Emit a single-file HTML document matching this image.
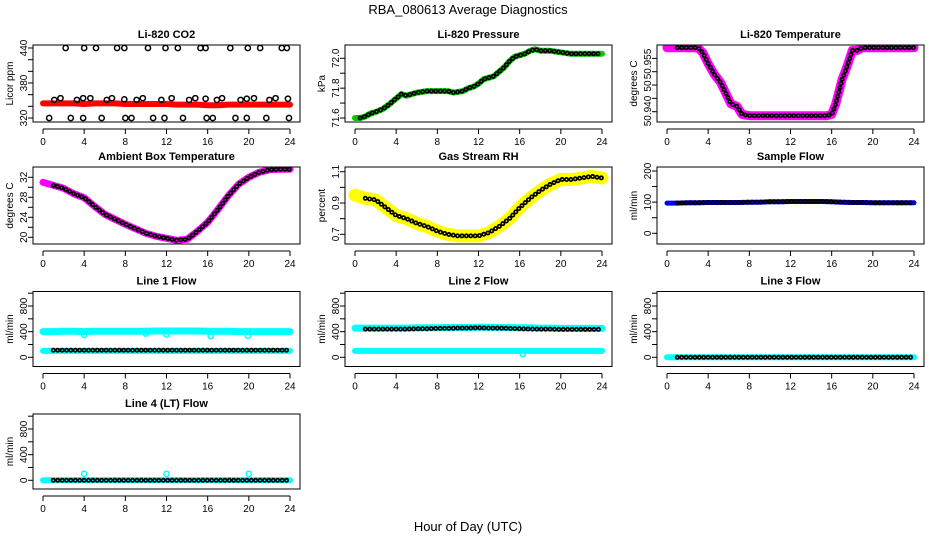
<!DOCTYPE html>
<html><head><meta charset="utf-8">
<style>
html,body{margin:0;padding:0;background:#fff;}
svg{display:block;font-family:"Liberation Sans",Arial,sans-serif;}
.tk{font-size:10px;fill:#000;}
.ttl{font-size:11px;font-weight:bold;fill:#000;}
</style></head>
<body>
<svg id="chart" width="936" height="540" viewBox="0 0 936 540" xmlns="http://www.w3.org/2000/svg">
<text x="468" y="14" text-anchor="middle" font-size="13">RBA_080613  Average Diagnostics</text>
<text x="468" y="531" text-anchor="middle" font-size="13">Hour of Day (UTC)</text>
</svg>
<script>
// ---------- data ----------
const hourTicks = [0,4,8,12,16,20,24];
const hours = [0,1,2,3,4,5,6,7,8,9,10,11,12,13,14,15,16,17,18,19,20,21,22,23,24];

const co2Band = [345,345,345,345,344,345,345,345,344,344,344,344,344,343,343,343,342,342,343,343,343,343,343,343,343];
const co2HighHours = [2.2,4.0,5.15,7.2,7.9,10.2,11.9,13.1,15.3,15.8,18.2,19.9,21.1,23.2,23.7];
const co2HighVals = [440,440,440,440,440,440,440,440,440,440,440,440,440,440,440];
const co2LowHours = [0.6,2.7,3.9,5.7,8.0,8.6,10.7,11.8,13.6,15.9,16.5,18.7,19.8,21.7,23.9];
const co2LowVals = [320,320,320,320,320,320,320,320,320,320,320,320,320,320,320];
const co2MidHours = [1.1,1.7,3.3,3.9,4.6,6.2,6.7,7.9,9.1,9.7,11.5,12.5,14.2,14.8,15.8,16.9,17.4,19.2,19.8,20.5,22,22.6,23.8];
const co2MidVals = [351,354,351,354,354,351,354,352,351,354,351,354,351,354,353,351,354,351,353,354,351,354,353];

const presHours = [0,0.5,1,1.5,2,2.7,3.3,3.8,4,4.5,5,5.5,6,7,8,9,9.6,10.5,11,11.5,12,12.5,13,13.5,14,14.5,15,15.5,16,16.5,17,17.5,18,19,20,21,22,23,24];
const presVals = [71.6,71.6,71.61,71.63,71.64,71.66,71.69,71.72,71.73,71.76,71.75,71.76,71.77,71.78,71.78,71.78,71.77,71.78,71.80,71.81,71.83,71.86,71.87,71.88,71.91,71.94,71.98,72.01,72.02,72.03,72.05,72.06,72.05,72.05,72.04,72.03,72.03,72.03,72.03];

const tempHours = [0,1,2,3,3.5,4,4.6,5.2,5.7,6.2,6.8,7.3,8,10,12,14,15.5,16,16.4,17,17.5,18,18.5,19,20,22,24];
const tempVals = [50.964,50.964,50.964,50.964,50.962,50.958,50.954,50.951,50.947,50.943,50.942,50.939,50.9385,50.9385,50.9385,50.9385,50.9385,50.939,50.943,50.952,50.957,50.963,50.963,50.964,50.964,50.964,50.964];

const ambVals = [31,30.4,29.8,28.7,27.9,26.2,24.6,23.6,22.6,21.7,20.8,20.2,19.8,19.4,19.6,21.2,23,25.6,28.3,30.6,32,33,33.5,33.6,33.6];
const rhVals = [0.95,0.93,0.92,0.87,0.82,0.80,0.77,0.75,0.72,0.70,0.69,0.69,0.69,0.71,0.75,0.80,0.87,0.93,0.98,1.02,1.05,1.05,1.06,1.07,1.06];
const sampleVals = [97,97,98,98,99,99,99,99,100,100,101,101,102,102,102,102,101,100,99,99,98,98,98,98,98];

const line1High = [400,400,405,405,400,405,405,405,405,405,405,410,410,410,410,410,405,405,405,400,400,400,400,400,400];
const line1Low = [100,100,100,100,100,100,100,100,100,100,100,100,100,100,100,100,100,100,100,100,100,100,100,100,100];
const line1Black = [110,110,110,110,110,110,110,110,110,110,110,110,110,110,110,110,110,110,110,110,110,110,110,110,110];
const line1OutHours = [4,10,12,16.3,19.9];
const line1OutVals = [350,370,355,330,335];
const line2High = [455,455,455,455,455,455,460,460,460,465,465,465,470,470,465,465,460,460,455,455,450,450,450,450,450];
const line2Low = [100,100,100,100,100,100,100,100,100,100,100,100,100,100,100,100,100,100,100,100,100,100,100,100,100];
const line2Black = [440,440,440,440,440,440,445,445,450,450,455,455,460,455,455,450,445,440,440,440,435,435,435,435,435];
const line2OutHours = [16.3];
const line2OutVals = [50];
const line3Vals = [0,0,0,0,0,0,0,0,0,0,0,0,0,0,0,0,0,0,0,0,0,0,0,0,0];
const line4Vals = [0,0,0,0,0,0,0,0,0,0,0,0,0,0,0,0,0,0,0,0,0,0,0,0,0];
const line4OutHours = [4,12,20];
const line4OutVals = [100,100,100];

// ---------- drawing ----------
const NS = 'http://www.w3.org/2000/svg';
const svg = document.getElementById('chart');
function mk(tag, attrs, parent){
  const e = document.createElementNS(NS, tag);
  for (const k in attrs) e.setAttribute(k, attrs[k]);
  (parent||svg).appendChild(e);
  return e;
}
const colX = [0,312,624];
const rowTop = [45,167,291.5,414];
const rowBot = [122,244,366.5,489];

function panel(name, col, row, title, ylab, yA, yB, ticks, labels){
  const g = mk('g', {});
  
  
  const x0 = colX[col]+33, x1 = colX[col]+300, y0 = rowTop[row], y1 = rowBot[row];
  const xs = h => colX[col] + 43 + h*247/24;
  const ys = v => yA[1] + (v - yA[0])*(yB[1]-yA[1])/(yB[0]-yA[0]);
  const clipId = 'clip-' + name;
  const cp = mk('clipPath', {id: clipId}, g);
  mk('rect', {x:x0, y:y0, width:x1-x0, height:y1-y0}, cp);
  const plot = mk('g', {'clip-path':'url(#'+clipId+')'}, g);
  const frame = mk('rect', {x:x0, y:y0, width:x1-x0, height:y1-y0, fill:'none', stroke:'#000', 'stroke-width':1}, g);
  
  
  const t = mk('text', {x:(x0+x1)/2, y:y0-7, 'text-anchor':'middle', class:'ttl'}, g);
  t.textContent = title;
  
  
  // x axis
  const xa = mk('g', {}, g);
  
  
  mk('line', {x1:xs(0), x2:xs(24), y1:y1+7, y2:y1+7, stroke:'#000'}, xa);
  hourTicks.forEach(h => {
    mk('line', {x1:xs(h), x2:xs(h), y1:y1+7, y2:y1+12, stroke:'#000'}, xa);
    const tl = mk('text', {x:xs(h), y:y1+23, 'text-anchor':'middle', class:'tk'}, xa);
    tl.textContent = h;
    
    
  });
  // y axis
  const ya = mk('g', {}, g);
  
  
  ticks.forEach(v => mk('line', {x1:x0-5, x2:x0, y1:ys(v), y2:ys(v), stroke:'#000'}, ya));
  labels.forEach(l => {
    const yy = l[1] !== undefined ? l[1] : ys(l[0]);
    const lx = x0-6;
    const tl = mk('text', {x:lx, y:yy, 'text-anchor':'middle', class:'tk', transform:'rotate(-90 '+lx+' '+yy+')'}, ya);
    tl.textContent = l[2] || l[0];
    
    
  });
  const ylx = colX[col]+13;
  const yl = mk('text', {x:ylx, y:(y0+y1)/2, 'text-anchor':'middle', class:'tk', transform:'rotate(-90 '+ylx+' '+((y0+y1)/2)+')'}, g);
  yl.textContent = ylab;
  
  
  return {plot, xs, ys};
}
function pts(p, hs, vs){ return hs.map((h,i)=>p.xs(h).toFixed(1)+','+p.ys(vs[i]).toFixed(1)).join(' '); }
function band(p, nm, hs, vs, color, w){
  const e = mk('polyline', {points:pts(p,hs,vs), fill:'none', stroke:color, 'stroke-width':w, 'stroke-linejoin':'round', 'stroke-linecap':'round'}, p.plot);
  
  
}
function dots(p, nm, hs, vs, inner){
  const g = mk('g', {}, p.plot);
  
  
  mk('polyline', {points:pts(p,hs,vs), fill:'none', stroke:'#000', 'stroke-width':5, 'stroke-dasharray':'0 4.4', 'stroke-linecap':'round'}, g);
  mk('polyline', {points:pts(p,hs,vs), fill:'none', stroke:inner, 'stroke-width':1.6, 'stroke-dasharray':'0 4.4', 'stroke-linecap':'round'}, g);
}
function circles(p, nm, hs, vs, color){
  hs.forEach((h,i)=>{
    const c = mk('circle', {cx:p.xs(h), cy:p.ys(vs[i]), r:2.6, fill:'none', stroke:color, 'stroke-width':1.5}, p.plot);
    
    
  });
}

// CO2
let p = panel('co2', 0, 0, 'Li-820 CO2', 'Licor ppm', [320,118], [440,48], [320,340,360,380,400,420,440], [[320],[380],[440]]);
band(p, 'co2-band', hours, co2Band, '#ff0000', 6);
circles(p, 'co2-point-high', co2HighHours, co2HighVals, '#000');
circles(p, 'co2-point-low', co2LowHours, co2LowVals, '#000');
circles(p, 'co2-point-mid', co2MidHours, co2MidVals, '#000');

// Pressure
p = panel('pressure', 1, 0, 'Li-820 Pressure', 'kPa', [71.6,118], [72.0,58.3], [71.6,71.7,71.8,71.9,72.0], [[71.6,undefined,'71.6'],[71.8,undefined,'71.8'],[72.0,undefined,'72.0']]);
band(p, 'pressure-band', presHours, presVals, '#00cc00', 6);
dots(p, 'pressure-average-points', presHours.slice(1), presVals.slice(1), '#00cc00');

// Li-820 Temperature
p = panel('licor-temp', 2, 0, 'Li-820 Temperature', 'degrees C', [50.940,111.7], [50.955,71.7], [50.940,50.945,50.950,50.955,50.960], [[50.940,111,'50.940'],[50.950,86,'50'],[50.955,64,'50.955']]);
band(p, 'licor-temp-band', tempHours, tempVals, '#ff00ff', 9);
dots(p, 'licor-temp-average-points', tempHours.slice(1), tempVals.slice(1), '#ff00ff');

// Ambient box temp
p = panel('ambient-temp', 0, 1, 'Ambient Box Temperature', 'degrees C', [20,237.3], [32,177.3], [20,22,24,26,28,30,32], [[20],[24],[28],[32]]);
band(p, 'ambient-temp-band', hours, ambVals, '#ff00ff', 7);
dots(p, 'ambient-temp-average-points', hours.slice(1), ambVals.slice(1), '#ff00ff');

// RH
p = panel('gas-rh', 1, 1, 'Gas Stream RH', 'percent', [0.7,234.3], [1.1,171.7], [0.7,0.8,0.9,1.0,1.1], [[0.7,undefined,'0.7'],[0.9,undefined,'0.9'],[1.1,undefined,'1.1']]);
band(p, 'gas-rh-band', hours, rhVals, '#ffff00', 13);
dots(p, 'gas-rh-average-points', hours.slice(1), rhVals.slice(1), '#ffff00');

// Sample flow
p = panel('sample-flow', 2, 1, 'Sample Flow', 'ml/min', [0,233.3], [200,171], [0,50,100,150,200], [[0],[100],[200]]);
band(p, 'sample-flow-band', hours, sampleVals, '#0000ff', 5);
dots(p, 'sample-flow-average-points', hours.slice(1), sampleVals.slice(1), '#0000ff');

const flowTicks = [0,200,400,600,800,1000];
const flowLabels = [[0],[400],[800]];
// Line 1
p = panel('line1-flow', 0, 2, 'Line 1 Flow', 'ml/min', [0,357.3], [800,306], flowTicks, flowLabels);
band(p, 'line1-high-band', hours, line1High, '#00ffff', 7);
band(p, 'line1-low-band', hours, line1Low, '#00ffff', 6);
dots(p, 'line1-average-points', hours.slice(1), line1Black.slice(1), '#00ffff');
circles(p, 'line1-outlier', line1OutHours, line1OutVals, '#00ffff');
// Line 2
p = panel('line2-flow', 1, 2, 'Line 2 Flow', 'ml/min', [0,357.3], [800,306], flowTicks, flowLabels);
band(p, 'line2-high-band', hours, line2High, '#00ffff', 7);
band(p, 'line2-low-band', hours, line2Low, '#00ffff', 6);
dots(p, 'line2-average-points', hours.slice(1), line2Black.slice(1), '#00ffff');
circles(p, 'line2-outlier', line2OutHours, line2OutVals, '#00ffff');
// Line 3
p = panel('line3-flow', 2, 2, 'Line 3 Flow', 'ml/min', [0,357.3], [800,306], flowTicks, flowLabels);
band(p, 'line3-band', hours, line3Vals, '#00ffff', 6);
dots(p, 'line3-average-points', hours.slice(1), line3Vals.slice(1), '#00ffff');
// Line 4
p = panel('line4-flow', 0, 3, 'Line 4 (LT) Flow', 'ml/min', [0,480.3], [800,429], flowTicks, flowLabels);
band(p, 'line4-band', hours, line4Vals, '#00ffff', 6);
dots(p, 'line4-average-points', hours.slice(1), line4Vals.slice(1), '#00ffff');
circles(p, 'line4-outlier', line4OutHours, line4OutVals, '#00ffff');
</script>
</body></html>
